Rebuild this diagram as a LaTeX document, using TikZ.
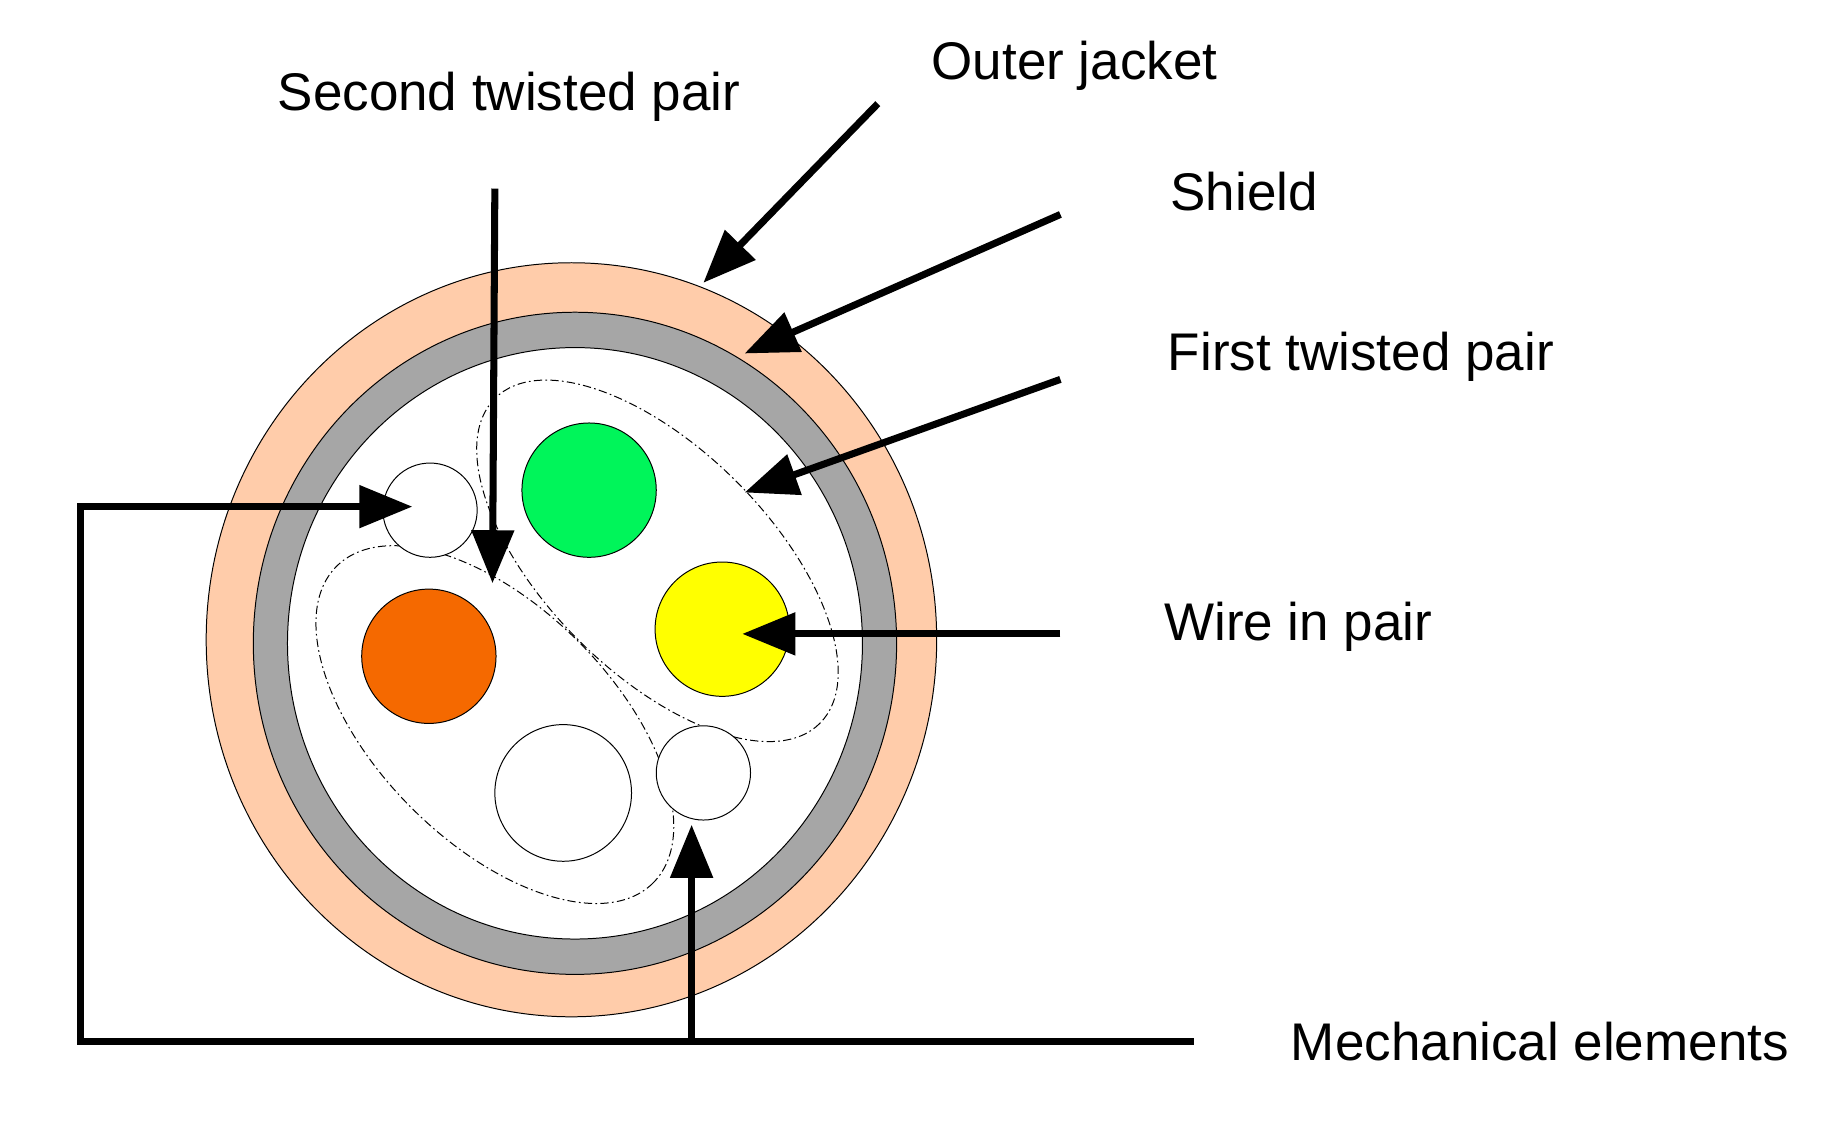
\documentclass[tikz,border=0pt]{standalone}
\usepackage{fontspec}
\setmainfont{Liberation Sans}
\usetikzlibrary{arrows.meta}
\definecolor{jacket}{RGB}{255,204,170}
\definecolor{shieldc}{RGB}{166,166,166}
\definecolor{grn}{RGB}{0,245,90}
\definecolor{yel}{RGB}{255,255,0}
\definecolor{org}{RGB}{245,105,0}
\begin{document}
\begin{tikzpicture}[x=0.05cm,y=-0.05cm,
  lbl/.style={font=\fontsize{64}{70}\selectfont,inner sep=0pt},
  arr/.style={line width=8.5pt,-{Triangle[length=64pt,width=50pt]}},
  ln/.style={line width=8.5pt},
  wire/.style={circle,draw,line width=1.2pt,inner sep=0pt},
  pair/.style={draw,line width=1.2pt,dash pattern=on 10pt off 4pt on 2pt off 4pt}]
\useasboundingbox (0,0) rectangle (1560,974);
\fill[jacket,draw=black,line width=1.2pt] (485,543) ellipse [x radius=310,y radius=320];
\fill[shieldc,draw=black,line width=1.2pt] (488,546) ellipse [x radius=273,y radius=281];
\fill[white,draw=black,line width=1.2pt] (488,546) ellipse [x radius=244,y radius=251];
\draw[pair,rotate around={-45:(558,476)}] (558,476) ellipse [x radius=195,y radius=95];
\draw[pair,rotate around={-45:(420,615)}] (420,615) ellipse [x radius=190,y radius=100];
\node[wire,fill=grn,minimum size=114*0.05cm] (g) at (500,416) {};
\node[wire,fill=yel,minimum size=114*0.05cm] (y) at (613,534) {};
\node[wire,fill=org,minimum size=114*0.05cm] (o) at (364,557) {};
\node[wire,fill=white,minimum size=116*0.05cm] (w) at (478,673) {};
\node[wire,fill=white,minimum size=80*0.05cm] (m1) at (365,433) {};
\node[wire,fill=white,minimum size=80*0.05cm] (m2) at (597,656) {};
\node[lbl] (tOJ) at (912,56) {Outer jacket};
\node[lbl] (tSTP) at (432,82) {Second twisted pair};
\node[lbl] (tSh) at (1056,163) {Shield};
\node[lbl] (tFTP) at (1155,303) {First twisted pair};
\node[lbl] (tW) at (1102,532) {Wire in pair};
\node[lbl] (tM) at (1307,884) {Mechanical elements};
\coordinate (aOJ) at (745,88); \coordinate (eOJ) at (597,240);
\coordinate (aSh) at (900,182); \coordinate (eSh) at (632,300);
\coordinate (aF) at (900,322); \coordinate (eF) at (632,418);
\coordinate (aW) at (900,538); \coordinate (eW) at (630,538);
\coordinate (aS) at (420,160); \coordinate (eS) at (418,495);
\coordinate (mR) at (1013,884); \coordinate (mL) at (68,884);
\coordinate (mU) at (68,430); \coordinate (eM1) at (350,430);
\coordinate (mJ) at (587,884); \coordinate (eM2) at (587,700);
\draw[arr] (aOJ) -- (eOJ);
\draw[arr] (aSh) -- (eSh);
\draw[arr] (aF) -- (eF);
\draw[arr] (aW) -- (eW);
\draw[arr] (aS) -- (eS);
\draw[arr,line join=miter] (mR) -- (mL) -- (mU) -- (eM1);
\draw[arr] (mJ) -- (eM2);
\end{tikzpicture}
\end{document}
